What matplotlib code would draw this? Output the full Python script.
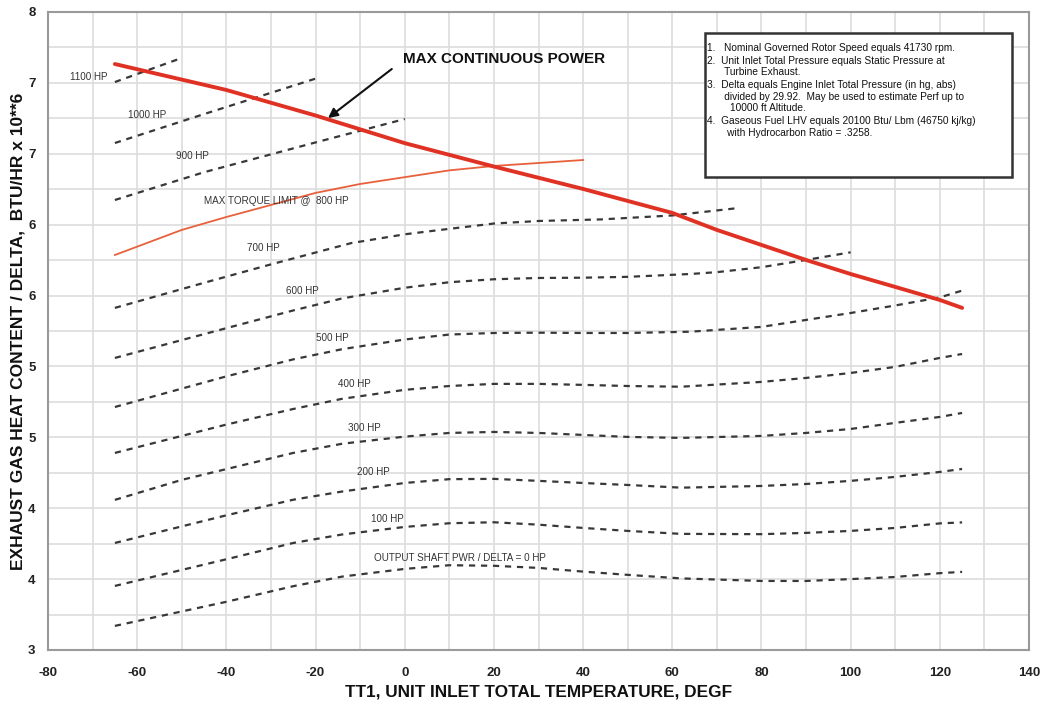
import matplotlib
matplotlib.use("Agg")
import matplotlib.pyplot as plt
from matplotlib.ticker import MultipleLocator, FixedLocator, FuncFormatter
import math

plt.rcParams['font.family'] = ['Liberation Sans', 'DejaVu Sans']
plt.rcParams['axes.unicode_minus'] = False

# ---------------- data ----------------
hp_1100_x = [-65, -50]
hp_1100_y = [7.006, 7.176]
hp_1000_x = [-65, -45, -20]
hp_1000_y = [6.576, 6.78, 7.03]
hp_900_x = [-65, -45, -20, 0]
hp_900_y = [6.174, 6.37, 6.58, 6.745]
hp_700_x = [-65, -45, -30, -12, 0, 8, 20, 30, 44, 60, 75]
hp_700_y = [5.413, 5.59, 5.72, 5.87, 5.932, 5.963, 6.008, 6.026, 6.037, 6.065, 6.118]
hp_600_x = [-65, -40, -25, -14, 0, 10, 20, 30, 40, 50, 64, 70, 80, 90, 100]
hp_600_y = [5.06, 5.27, 5.395, 5.48, 5.555, 5.594, 5.615, 5.624, 5.626, 5.632, 5.652, 5.665, 5.70, 5.751, 5.805]
hp_500_x = [-65, -40, -25, -14, 0, 10, 20, 30, 40, 50, 64, 80, 90, 100, 110, 120, 125]
hp_500_y = [4.714, 4.93, 5.05, 5.122, 5.19, 5.225, 5.236, 5.238, 5.236, 5.236, 5.245, 5.279, 5.328, 5.377, 5.43, 5.487, 5.535]
hp_400_x = [-65, -40, -25, -14, 0, 10, 20, 30, 40, 50, 62, 80, 90, 100, 110, 120, 125]
hp_400_y = [4.390, 4.59, 4.70, 4.772, 4.835, 4.862, 4.877, 4.877, 4.870, 4.862, 4.857, 4.891, 4.919, 4.954, 4.997, 5.06, 5.088]
hp_300_x = [-65, -50, -25, -14, 0, 10, 20, 30, 40, 50, 62, 80, 90, 100, 110, 120, 125]
hp_300_y = [4.059, 4.20, 4.39, 4.455, 4.505, 4.531, 4.538, 4.531, 4.517, 4.503, 4.496, 4.510, 4.531, 4.559, 4.602, 4.644, 4.672]
hp_200_x = [-65, -40, -25, -14, 0, 10, 20, 30, 40, 50, 62, 80, 90, 100, 110, 120, 125]
hp_200_y = [3.755, 3.95, 4.06, 4.118, 4.178, 4.205, 4.207, 4.193, 4.178, 4.164, 4.145, 4.157, 4.171, 4.193, 4.221, 4.256, 4.277]
hp_100_x = [-65, -40, -25, -14, 0, 10, 20, 30, 40, 50, 62, 80, 90, 100, 110, 120, 125]
hp_100_y = [3.452, 3.64, 3.755, 3.815, 3.868, 3.894, 3.901, 3.884, 3.861, 3.840, 3.819, 3.817, 3.826, 3.840, 3.861, 3.893, 3.90]
hp_0_x = [-65, -40, -25, -14, 0, 10, 20, 30, 40, 50, 62, 80, 90, 100, 110, 120, 125]
hp_0_y = [3.170, 3.34, 3.45, 3.518, 3.572, 3.598, 3.594, 3.579, 3.553, 3.530, 3.505, 3.487, 3.487, 3.500, 3.515, 3.542, 3.551]

mcp_x = [-65, -40, -20, 0, 20, 40, 60, 70, 80, 90, 100, 110, 120, 125]
mcp_y = [7.133, 6.95, 6.77, 6.575, 6.41, 6.252, 6.083, 5.963, 5.857, 5.751, 5.652, 5.561, 5.469, 5.413]

torque_x = [-65, -50, -40, -30, -20, -10, 0, 10, 20, 30, 40]
torque_y = [5.786, 5.963, 6.054, 6.139, 6.224, 6.287, 6.335, 6.383, 6.414, 6.435, 6.456]

hp_labels = ["1100 HP", "1000 HP", "900 HP", "MAX TORQUE LIMIT @  800 HP", "700 HP", "600 HP",
             "500 HP", "400 HP", "300 HP", "200 HP", "100 HP", "OUTPUT SHAFT PWR / DELTA = 0 HP"]
hp_label_x = [-70.9, -57.8, -47.7, -28.9, -31.6, -23.0, -16.3, -11.4, -9.1, -7.1, -3.95, 12.4]
hp_label_y = [7.04, 6.774, 6.484, 6.167, 5.836, 5.532, 5.201, 4.877, 4.566, 4.256, 3.925, 3.650]

notes = [
    "1.   Nominal Governed Rotor Speed equals 41730 rpm.",
    "2.  Unit Inlet Total Pressure equals Static Pressure at",
    "      Turbine Exhaust.",
    "3.  Delta equals Engine Inlet Total Pressure (in hg, abs)",
    "      divided by 29.92.  May be used to estimate Perf up to",
    "        10000 ft Altitude.",
    "4.  Gaseous Fuel LHV equals 20100 Btu/ Lbm (46750 kj/kg)",
    "       with Hydrocarbon Ratio = .3258.",
]

x_ticks = list(range(-80, 141, 20))
y_ticks = [3.0, 3.5, 4.0, 4.5, 5.0, 5.5, 6.0, 6.5, 7.0, 7.5]

# ---------------- figure ----------------
fig = plt.figure(figsize=(10.43, 7.06), dpi=100)
ax = fig.add_axes([48/1043, 56/706, 981/1043, 638/706])
ax.set_xlim(-80, 140)
ax.set_ylim(3.0, 7.5)

ax.xaxis.set_major_locator(FixedLocator(x_ticks))
ax.xaxis.set_minor_locator(MultipleLocator(10))
ax.yaxis.set_major_locator(FixedLocator(y_ticks))
ax.yaxis.set_minor_locator(MultipleLocator(0.25))
ax.yaxis.set_major_formatter(FuncFormatter(lambda v, p: "%d" % math.floor(v + 0.5)))
ax.grid(True, which='both', color='#dddddd', lw=1.2, zorder=0)
ax.set_axisbelow(True)
ax.tick_params(which='both', length=0)
ax.tick_params(axis='x', pad=12, labelsize=9.5, labelcolor='#222222')
ax.tick_params(axis='y', pad=9, labelsize=9.5, labelcolor='#222222')
for lab in ax.get_xticklabels() + ax.get_yticklabels():
    lab.set_fontweight('bold')
for s in ax.spines.values():
    s.set_color('#9a9a9a')
    s.set_linewidth(1.5)

dash_kw = dict(color='#383838', lw=1.6, dashes=(2.8, 2.6), zorder=3)
for xs, ys in [(hp_1100_x, hp_1100_y), (hp_1000_x, hp_1000_y), (hp_900_x, hp_900_y),
               (hp_700_x, hp_700_y), (hp_600_x, hp_600_y), (hp_500_x, hp_500_y),
               (hp_400_x, hp_400_y), (hp_300_x, hp_300_y), (hp_200_x, hp_200_y),
               (hp_100_x, hp_100_y), (hp_0_x, hp_0_y)]:
    ax.plot(xs, ys, **dash_kw)

ax.plot(torque_x, torque_y, color='#e8603c', lw=1.3, zorder=4)
ax.plot(mcp_x, mcp_y, color='#e03224', lw=2.8, zorder=5, solid_capstyle='round',
        solid_joinstyle='round')

for t, x, y in zip(hp_labels, hp_label_x, hp_label_y):
    ax.text(x, y, t, fontsize=7.1, color='#333333', ha='center', va='center', zorder=6)

ax.annotate("", xy=(-17.2, 6.752), xytext=(-2.9, 7.098),
            arrowprops=dict(arrowstyle='-|>', color='#111111', lw=1.5,
                            mutation_scale=14, shrinkA=0, shrinkB=0), zorder=7)
ax.text(-0.4, 7.169, "MAX CONTINUOUS POWER", fontsize=11, fontweight='bold',
        color='#111111', ha='left', va='center', zorder=7)

ax.set_xlabel("TT1, UNIT INLET TOTAL TEMPERATURE, DEGF", fontsize=12.4, fontweight='bold',
              color='#111111', labelpad=4)
ax.set_ylabel("EXHAUST GAS HEAT CONTENT / DELTA,  BTU/HR x 10**6", fontsize=12.5,
              fontweight='bold', color='#111111', labelpad=2)

# notes box (figure pixel coords)
W, H = 1043, 706
box = plt.Rectangle((705/W, 1 - 177/H), (1012-705)/W, (177-33)/H, transform=fig.transFigure,
                    facecolor='white', edgecolor='#333333', lw=1.8, zorder=10)
fig.patches.append(box)
line_y = [48, 61, 72, 85, 97, 108, 121, 133]
for t, py in zip(notes, line_y):
    fig.text(707/W, 1 - py/H, t, fontsize=7.3, color='#111111', ha='left', va='center', zorder=11)

fig.savefig("out.png", dpi=100)
